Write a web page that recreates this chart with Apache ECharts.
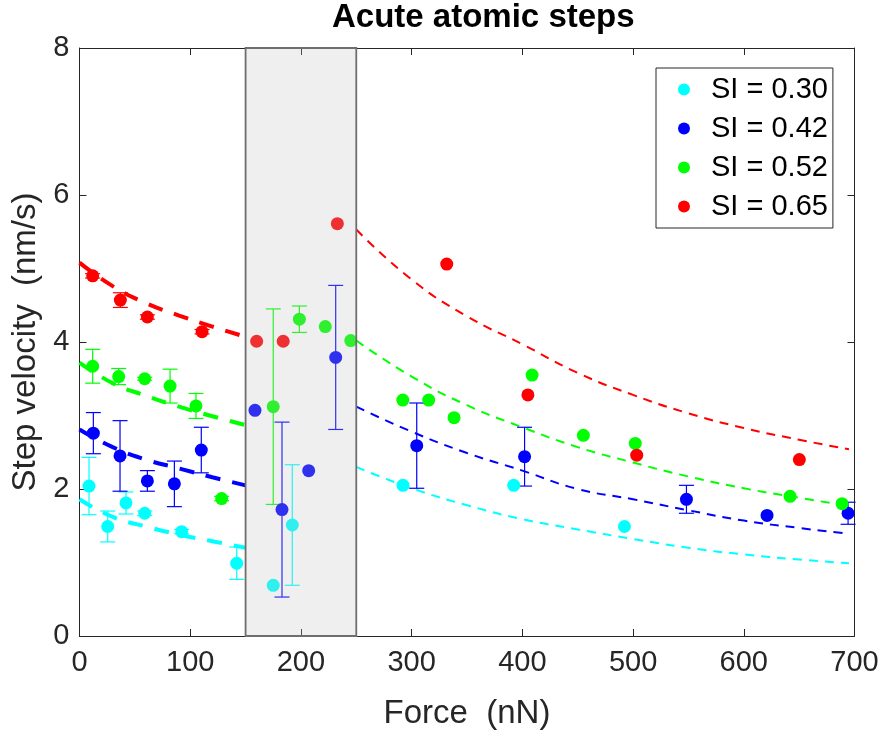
<!DOCTYPE html>
<html>
<head>
<meta charset="utf-8">
<script src="https://cdn.jsdelivr.net/npm/echarts@6/dist/echarts.min.js"></script>
<style>
  html, body { margin: 0; padding: 0; background: #fff; }
  #chart { width: 886px; height: 733px; }
</style>
</head>
<body>
<div id="chart"></div>
<script>
const cyanX = [8.6, 25.5, 42, 58.9, 92.3, 142, 175, 192.2, 292.2, 392.2, 492.2];
const cyanY = [2.04, 1.49, 1.81, 1.67, 1.42, 0.99, 0.69, 1.51, 2.05, 2.05, 1.49];
const cyanErr = [0.39, 0.21, 0.15, 0.03, 0.03, 0.22, 0, 0.82, 0, 0, 0];

const blueX = [12.5, 36.6, 61.3, 85.7, 110, 158.5, 182.9, 207, 231.4, 304.6, 402, 548.2, 621, 694.2];
const blueY = [2.76, 2.45, 2.11, 2.07, 2.53, 3.07, 1.72, 2.25, 3.79, 2.59, 2.44, 1.86, 1.64, 1.67];
const blueErr = [0.28, 0.48, 0.14, 0.31, 0.31, 0, 1.19, 0, 0.98, 0.58, 0.40, 0.19, 0, 0.15];

const greenX = [11.9, 35.4, 58.9, 81.8, 105.2, 128.4, 175, 198.6, 222, 245, 292, 315.4, 338.3, 408.8, 455.1, 502, 641.8, 688.8];
const greenY = [3.67, 3.53, 3.50, 3.40, 3.13, 1.87, 3.12, 4.31, 4.21, 4.02, 3.21, 3.21, 2.97, 3.55, 2.73, 2.62, 1.90, 1.80];
const greenErr = [0.23, 0.11, 0.02, 0.23, 0.17, 0.03, 1.33, 0.18, 0, 0, 0, 0, 0, 0, 0, 0, 0, 0];

const redX = [11.9, 36.9, 61.3, 110.7, 160, 184, 232.9, 331.7, 405, 503.3, 650.2];
const redY = [4.90, 4.57, 4.34, 4.14, 4.01, 4.01, 5.61, 5.06, 3.28, 2.46, 2.40];
const redErr = [0.03, 0.10, 0.03, 0.03, 0, 0, 0, 0, 0, 0, 0];

// fitted curves (dashed), low force part and high force part
const fitLeftX = [0, 30, 60, 90, 120, 150];
const cyanFitL = [1.86, 1.62, 1.49, 1.38, 1.29, 1.20];
const blueFitL = [2.81, 2.57, 2.40, 2.28, 2.16, 2.05];
const greenFitL = [3.72, 3.44, 3.27, 3.12, 2.99, 2.87];
const redFitL = [5.08, 4.76, 4.53, 4.36, 4.21, 4.07];

const fitRightX = [250, 300, 350, 400, 450, 500, 550, 600, 650, 695];
const cyanFitR = [2.30, 2.01, 1.78, 1.59, 1.45, 1.32, 1.20, 1.11, 1.04, 0.99];
const blueFitR = [3.12, 2.78, 2.49, 2.25, 2.00, 1.86, 1.71, 1.57, 1.47, 1.39];
const greenFitR = [4.02, 3.53, 3.14, 2.84, 2.57, 2.36, 2.17, 2.01, 1.88, 1.77];
const redFitR = [5.53, 4.85, 4.35, 3.97, 3.58, 3.28, 3.03, 2.83, 2.67, 2.54];

const shadeRange = [150, 250];

const groups = [
  { name: 'SI = 0.30', color: '#00ffff', x: cyanX, y: cyanY, err: cyanErr, fl: cyanFitL, fr: cyanFitR },
  { name: 'SI = 0.42', color: '#0000ff', x: blueX, y: blueY, err: blueErr, fl: blueFitL, fr: blueFitR },
  { name: 'SI = 0.52', color: '#00ff00', x: greenX, y: greenY, err: greenErr, fl: greenFitL, fr: greenFitR },
  { name: 'SI = 0.65', color: '#ff0000', x: redX, y: redY, err: redErr, fl: redFitL, fr: redFitR }
];

const FONT = 'Liberation Sans, Arial, Helvetica, sans-serif';
const axisColor = '#262626';

function zip(xs, ys) {
  return xs.map(function (v, i) { return [v, ys[i]]; });
}

let series = [];
groups.forEach(function (g) {
  series.push({
    name: g.name + ' fitL',
    type: 'line',
    data: zip(fitLeftX, g.fl),
    smooth: true,
    showSymbol: false,
    lineStyle: { color: g.color, width: 4, type: [15, 12] },
    z: 2,
    silent: true
  });
  series.push({
    name: g.name + ' fitR',
    type: 'line',
    data: zip(fitRightX, g.fr),
    smooth: true,
    showSymbol: false,
    lineStyle: { color: g.color, width: 2, type: [9, 7] },
    z: 2,
    silent: true
  });
  series.push({
    name: g.name + ' err',
    type: 'custom',
    data: g.x.map(function (v, i) { return [v, g.y[i], g.err[i]]; }),
    renderItem: function (params, api) {
      let x = api.value(0), y = api.value(1), e = api.value(2);
      if (!e) return null;
      let top = api.coord([x, y + e]);
      let bot = api.coord([x, y - e]);
      let hw = 7.5;
      let st = { stroke: g.color, lineWidth: 1.2 };
      return {
        type: 'group',
        children: [
          { type: 'line', shape: { x1: top[0], y1: top[1], x2: bot[0], y2: bot[1] }, style: st },
          { type: 'line', shape: { x1: top[0] - hw, y1: top[1], x2: top[0] + hw, y2: top[1] }, style: st },
          { type: 'line', shape: { x1: bot[0] - hw, y1: bot[1], x2: bot[0] + hw, y2: bot[1] }, style: st }
        ]
      };
    },
    z: 3,
    silent: true
  });
  series.push({
    name: g.name,
    type: 'scatter',
    data: zip(g.x, g.y),
    symbol: 'circle',
    symbolSize: 13,
    itemStyle: { color: g.color, opacity: 1 },
    z: 4
  });
});

// grey window over the transition range, drawn on top like the original patch
series.push({
  name: 'window',
  type: 'custom',
  data: [[shadeRange[0], shadeRange[1]]],
  renderItem: function (params, api) {
    let p0 = api.coord([api.value(0), 8]);
    let p1 = api.coord([api.value(1), 0]);
    return {
      type: 'rect',
      shape: { x: p0[0], y: p0[1], width: p1[0] - p0[0], height: p1[1] - p0[1] },
      style: { fill: 'rgba(190,190,190,0.25)', stroke: '#6e6e6e', lineWidth: 1.8 }
    };
  },
  z: 10,
  silent: true
});

const chart = echarts.init(document.getElementById('chart'));

const option = {
  animation: false,
  backgroundColor: '#fff',
  textStyle: { fontFamily: FONT },
  graphic: [{
    type: 'text',
    left: 332,
    top: 1,
    style: { text: 'Acute atomic steps', font: 'bold 33px ' + FONT, fill: '#000' }
  }],
  legend: {
    data: groups.map(function (g) { return g.name; }),
    orient: 'vertical',
    left: 656,
    top: 68,
    padding: [7, 5, 7, 22],
    itemWidth: 44,
    itemHeight: 12,
    itemGap: 10,
    icon: 'circle',
    backgroundColor: '#fff',
    borderColor: axisColor,
    borderWidth: 1,
    borderRadius: 0,
    textStyle: { fontSize: 29, lineHeight: 28, color: '#000', fontFamily: FONT },
    z: 20
  },
  grid: { left: 79.5, right: 31.5, top: 48, bottom: 97, containLabel: false, outerBoundsMode: 'none' },
  xAxis: [{
    type: 'value',
    min: 0, max: 700, interval: 100,
    name: 'Force  (nN)',
    nameLocation: 'middle',
    nameGap: 61,
    nameTextStyle: { fontSize: 33, color: '#262626', fontFamily: FONT },
    axisLine: { show: true, onZero: false, lineStyle: { color: axisColor, width: 1 } },
    axisTick: { show: true, inside: true, length: 7, lineStyle: { color: axisColor } },
    axisLabel: { fontSize: 29, color: '#262626', margin: 12, fontFamily: FONT },
    splitLine: { show: false }
  }, {
    type: 'value',
    position: 'top',
    min: 0, max: 700, interval: 100,
    axisLine: { show: true, onZero: false, lineStyle: { color: axisColor, width: 1 } },
    axisTick: { show: true, inside: true, length: 7, lineStyle: { color: axisColor } },
    axisLabel: { show: false },
    splitLine: { show: false }
  }],
  yAxis: [{
    type: 'value',
    min: 0, max: 8, interval: 2,
    name: 'Step velocity  (nm/s)',
    nameLocation: 'middle',
    nameGap: 36,
    nameTextStyle: { fontSize: 33, color: '#262626', fontFamily: FONT },
    axisLine: { show: true, onZero: false, lineStyle: { color: axisColor, width: 1 } },
    axisTick: { show: true, inside: true, length: 7, lineStyle: { color: axisColor } },
    axisLabel: { fontSize: 29, color: '#262626', margin: 10, fontFamily: FONT },
    splitLine: { show: false }
  }, {
    type: 'value',
    position: 'right',
    min: 0, max: 8, interval: 2,
    axisLine: { show: true, onZero: false, lineStyle: { color: axisColor, width: 1 } },
    axisTick: { show: true, inside: true, length: 7, lineStyle: { color: axisColor } },
    axisLabel: { show: false },
    splitLine: { show: false }
  }],
  series: series
};

chart.setOption(option);
</script>
</body>
</html>
